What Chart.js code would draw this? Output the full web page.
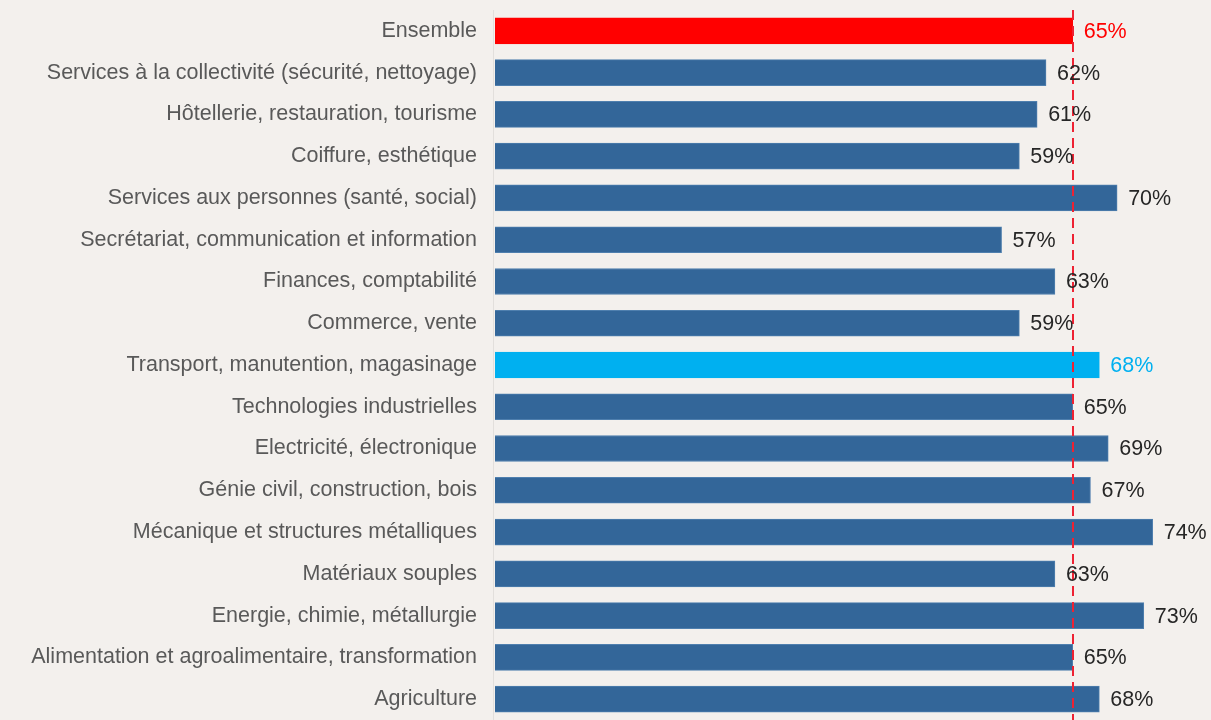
<!DOCTYPE html>
<html>
<head>
<meta charset="utf-8">
<script src="https://cdn.jsdelivr.net/npm/chart.js@4"></script>
<style>
  html, body { margin: 0; padding: 0; background: #f3f0ed; }
  #wrap { width: 1211px; height: 720px; position: relative; }
</style>
</head>
<body>
<div id="wrap"><canvas id="chart"></canvas></div>
<script>
const categories = [
  "Ensemble",
  "Services à la collectivité (sécurité, nettoyage)",
  "Hôtellerie, restauration, tourisme",
  "Coiffure, esthétique",
  "Services aux personnes (santé, social)",
  "Secrétariat, communication et information",
  "Finances, comptabilité",
  "Commerce, vente",
  "Transport, manutention, magasinage",
  "Technologies industrielles",
  "Electricité, électronique",
  "Génie civil, construction, bois",
  "Mécanique et structures métalliques",
  "Matériaux souples",
  "Energie, chimie, métallurgie",
  "Alimentation et agroalimentaire, transformation",
  "Agriculture",
];
const values = [65, 62, 61, 59, 70, 57, 63, 59, 68, 65, 69, 67, 74, 63, 73, 65, 68];
const averageValue = 65;

const baseColor = "#336699";
const highlight = { 0: "#ff0000", 8: "#00b0f0" };
const barColors = values.map((_, i) => highlight[i] || baseColor);
const textColors = values.map((_, i) => highlight[i] || "#262626");

// dashed reference line at the overall average
const averageLine = {
  id: "averageLine",
  afterDatasetsDraw(chart) {
    const { ctx, chartArea, scales } = chart;
    const x = Math.round(scales.x.getPixelForValue(averageValue));
    ctx.save();
    ctx.strokeStyle = "#ee2233";
    ctx.lineWidth = 2;
    ctx.setLineDash([10, 6]);
    ctx.beginPath();
    ctx.moveTo(x, chartArea.top);
    ctx.lineTo(x, chartArea.bottom);
    ctx.stroke();
    ctx.restore();
  },
};

// value labels to the right of each bar
const valueLabels = {
  id: "valueLabels",
  afterDraw(chart) {
    const { ctx } = chart;
    const meta = chart.getDatasetMeta(0);
    ctx.save();
    ctx.font = "21.5px 'Liberation Sans', Arial, sans-serif";
    ctx.textAlign = "left";
    ctx.textBaseline = "middle";
    meta.data.forEach((bar, i) => {
      ctx.fillStyle = textColors[i];
      ctx.fillText(values[i] + "%", bar.x + 11, bar.y + 1);
    });
    ctx.restore();
  },
};

// faint vertical axis line at the bars' origin
const axisLine = {
  id: "axisLine",
  beforeDatasetsDraw(chart) {
    const { ctx, chartArea } = chart;
    ctx.save();
    ctx.strokeStyle = "#e2dfdc";
    ctx.lineWidth = 1;
    ctx.beginPath();
    ctx.moveTo(chartArea.left - 1.5, chartArea.top);
    ctx.lineTo(chartArea.left - 1.5, chartArea.bottom);
    ctx.stroke();
    ctx.restore();
  },
};

new Chart(document.getElementById("chart"), {
  type: "bar",
  data: {
    labels: categories,
    datasets: [{
      data: values,
      backgroundColor: barColors,
      borderColor: values.map((_, i) => highlight[i] ? highlight[i] : "#4f7fae"),
      borderWidth: 1,
      barThickness: 26,
    }],
  },
  options: {
    indexAxis: "y",
    responsive: true,
    maintainAspectRatio: false,
    animation: false,
    layout: { padding: { top: 10, right: 5, bottom: 0, left: 0 } },
    scales: {
      x: {
        min: 0,
        max: 80,
        display: false,
        grid: { display: false },
      },
      y: {
        grid: { display: false, drawTicks: false },
        border: { display: false },
        afterFit: (scale) => {
          scale.width = 495;
          scale.paddingTop = 0;
          scale.paddingBottom = 0;
        },
        ticks: {
          padding: 18,
          color: "#595959",
          font: { family: "'Liberation Sans', Arial, sans-serif", size: 21.5 },
        },
      },
    },
    plugins: {
      legend: { display: false },
      tooltip: { enabled: false },
    },
  },
  plugins: [axisLine, averageLine, valueLabels],
});
</script>
</body>
</html>
